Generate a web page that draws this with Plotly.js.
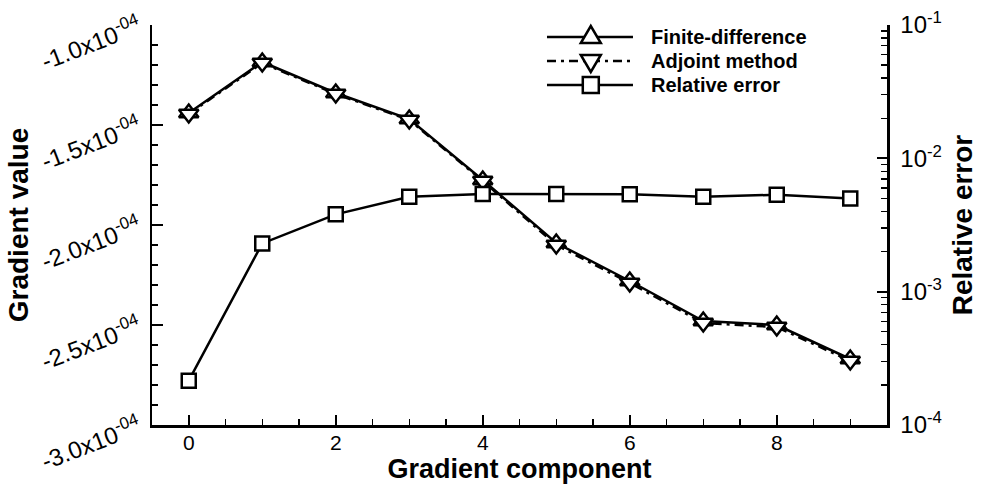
<!DOCTYPE html>
<html>
<head>
<meta charset="utf-8">
<script src="https://cdn.plot.ly/plotly-3.0.1.min.js"></script>
<style>
  html, body { margin: 0; padding: 0; background: #fff; }
  #chart { width: 981px; height: 485px; }
</style>
</head>
<body>
<div id="chart"></div>
<script>
// Gradient components of the objective and their comparison
const components = [0, 1, 2, 3, 4, 5, 6, 7, 8, 9];
const finiteDifference = [-1.44e-4, -1.185e-4, -1.34e-4, -1.47e-4, -1.775e-4, -2.09e-4, -2.28e-4, -2.48e-4, -2.50e-4, -2.67e-4];
const adjointMethod = [-1.445e-4, -1.19e-4, -1.345e-4, -1.475e-4, -1.78e-4, -2.10e-4, -2.29e-4, -2.49e-4, -2.51e-4, -2.68e-4];
const relativeError = [2.15e-4, 2.3e-3, 3.8e-3, 5.15e-3, 5.4e-3, 5.4e-3, 5.38e-3, 5.16e-3, 5.33e-3, 5.0e-3];

const gradTickVals = [-3.0e-4, -2.5e-4, -2.0e-4, -1.5e-4, -1.0e-4];
const gradTickText = ['-3.0x10<sup>-04</sup>', '-2.5x10<sup>-04</sup>', '-2.0x10<sup>-04</sup>',
                      '-1.5x10<sup>-04</sup>', '-1.0x10<sup>-04</sup>'];
const errTickVals = [1e-4, 1e-3, 1e-2, 1e-1];
const errTickText = ['10<sup>-4</sup>', '10<sup>-3</sup>', '10<sup>-2</sup>', '10<sup>-1</sup>'];

const legendLabels = ['Finite-difference', 'Adjoint method', 'Relative error'];

// minor ticks of the log axis: 2..9 within each decade
const errMinor = [];
for (let e = -4; e < -1; e++) {
  for (let m = 2; m <= 9; m++) errMinor.push(m * Math.pow(10, e));
}

const FONT = 'Liberation Sans, Arial, Helvetica, sans-serif';
const dashDot = '9px,5px,3px,5px';
const LW = 2.5;

const markerBase = { color: '#ffffff', line: { color: '#000000', width: 2.5 } };

const traces = [
  {
    x: components, y: relativeError, yaxis: 'y2', name: legendLabels[2],
    mode: 'lines+markers',
    line: { color: '#000000', width: LW },
    marker: Object.assign({ symbol: 'square', size: 14 }, markerBase)
  },
  {
    x: components, y: finiteDifference, name: legendLabels[0],
    mode: 'lines+markers',
    line: { color: '#000000', width: LW },
    marker: Object.assign({ symbol: 'triangle-up', size: 17 }, markerBase)
  },
  {
    x: components, y: adjointMethod, name: legendLabels[1],
    mode: 'lines+markers',
    line: { color: '#000000', width: LW, dash: dashDot },
    marker: Object.assign({ symbol: 'triangle-down', size: 17 }, markerBase)
  }
];

// hand-built legend block (long line samples with centred symbols)
const legRows = [0.97, 0.91, 0.85];
const legX0 = 0.5374, legX1 = 0.6544, legXm = 0.597, legText = 0.676;
const symbolPaths = [
  'M-10,-6L10,-6L0,11Z',
  'M-10,6L10,6L0,-11Z',
  'M-8,-8L8,-8L8,8L-8,8Z'
];
const shapes = [];
const annotations = [];
legRows.forEach((yy, i) => {
  shapes.push({
    type: 'line', xref: 'paper', yref: 'paper',
    x0: legX0, x1: legX1, y0: yy, y1: yy,
    line: { color: '#000', width: LW, dash: i === 1 ? dashDot : 'solid' }
  });
  shapes.push({
    type: 'path', xref: 'paper', yref: 'paper',
    xsizemode: 'pixel', ysizemode: 'pixel', xanchor: legXm, yanchor: yy,
    path: symbolPaths[i], fillcolor: '#ffffff',
    line: { color: '#000', width: 2.5 }
  });
  annotations.push({
    xref: 'paper', yref: 'paper', x: legText, y: yy,
    xanchor: 'left', yanchor: 'middle', showarrow: false,
    text: legendLabels[i],
    font: { family: FONT, size: 20, color: '#000', weight: 700 }
  });
});

const layout = {
  width: 981, height: 485,
  margin: { l: 152, r: 94, t: 25, b: 60 },
  paper_bgcolor: '#ffffff', plot_bgcolor: '#ffffff',
  showlegend: false,
  font: { family: FONT, color: '#000' },
  xaxis: {
    range: [-0.5, 9.5],
    tickmode: 'linear', tick0: 0, dtick: 2,
    ticks: 'inside', ticklen: 10, tickwidth: 1.8, tickcolor: '#000',
    minor: { dtick: 0.5, tick0: 0, ticks: 'inside', ticklen: 6, tickwidth: 1.4, tickcolor: '#000' },
    showline: true, linewidth: 2.5, linecolor: '#000',
    showgrid: false, zeroline: false,
    ticklabelstandoff: -3,
    tickfont: { family: FONT, size: 21 },
    title: { text: 'Gradient component', font: { family: FONT, size: 27, weight: 700 }, standoff: 2 }
  },
  yaxis: {
    range: [-3.0e-4, -1.0e-4],
    tickmode: 'array', tickvals: gradTickVals, ticktext: gradTickText,
    tickangle: -21,
    ticklabelstandoff: 6,
    ticks: 'inside', ticklen: 11, tickwidth: 1.8, tickcolor: '#000',
    minor: { dtick: 1e-5, tick0: 0, ticks: 'inside', ticklen: 6, tickwidth: 1.4, tickcolor: '#000' },
    showline: true, linewidth: 2.5, linecolor: '#000',
    showgrid: false, zeroline: false,
    tickfont: { family: FONT, size: 24 },
    title: { text: 'Gradient value', font: { family: FONT, size: 28, weight: 700 }, standoff: 0 }
  },
  yaxis2: {
    type: 'log', range: [-4, -1],
    overlaying: 'y', side: 'right',
    tickmode: 'array', tickvals: errTickVals, ticktext: errTickText,
    ticks: 'inside', ticklen: 10, tickwidth: 1.8, tickcolor: '#000',
    minor: { tickmode: 'array', tickvals: errMinor, ticks: 'inside', ticklen: 6, tickwidth: 1.4, tickcolor: '#000' },
    showline: true, linewidth: 2.5, linecolor: '#000',
    showgrid: false, zeroline: false,
    ticklabelstandoff: 6,
    tickfont: { family: FONT, size: 24 },
    title: { text: 'Relative error', font: { family: FONT, size: 28, weight: 700 }, standoff: 12 }
  },
  shapes: shapes,
  annotations: annotations
};

Plotly.newPlot('chart', traces, layout, { displayModeBar: false, staticPlot: true });
</script>
</body>
</html>
